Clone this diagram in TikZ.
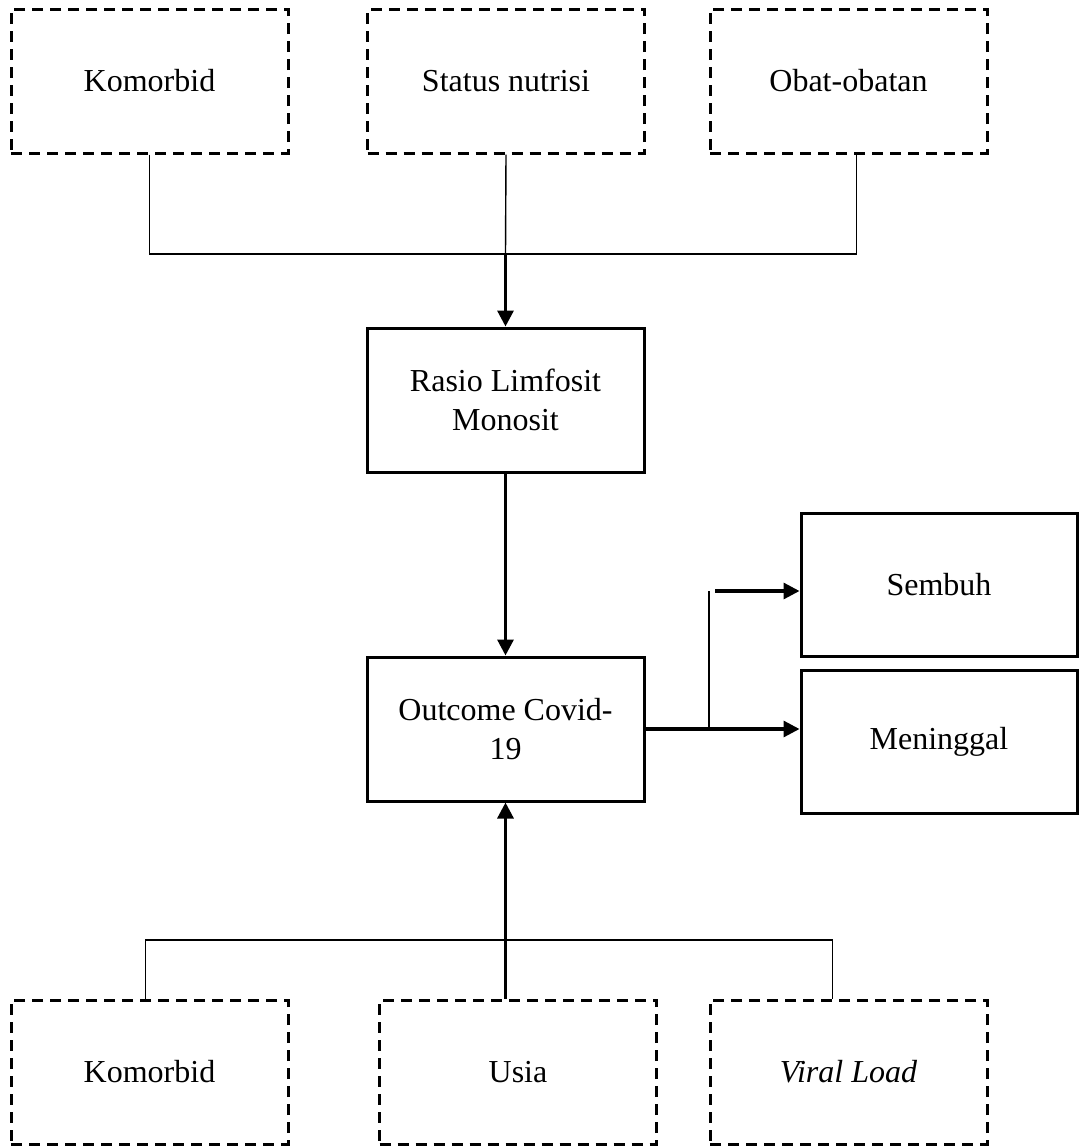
\documentclass[tikz,border=0pt]{standalone}
\usepackage{fontspec}
\setmainfont{Liberation Serif}
\usetikzlibrary{positioning,arrows.meta}
\tikzstyle{box} = [rectangle, text centered, align=center,
    minimum width=138.5pt, minimum height=72pt,
    draw=black, line width=1.5pt]
\tikzstyle{dbox} = [box, dash pattern=on 5.5pt off 3.5pt, line width=1.5pt]
\tikzstyle{arrow} = [-{Triangle[length=8pt,width=8pt]}, line width=1.6pt]
\tikzstyle{link} = [line width=0.7pt]

\begin{document}
\begin{tikzpicture}[%
x=0.5pt,y=-0.5pt,
font=\fontsize{16}{19.5}\selectfont,
]
\useasboundingbox (0,0) rectangle (1079,1146);

% faktor atas
\node[dbox] (kom1) at (149.5,81) {Komorbid};
\node[dbox] (nutri) at (506,81) {Status nutrisi};
\node[dbox] (obat) at (848.5,81) {Obat-obatan};

\node[box] (rasio) at (505.5,400) {Rasio Limfosit\\Monosit};
\node[box] (outcome) at (505.5,729) {Outcome Covid-\\19};
\node[box, minimum width=138pt, minimum height=71.5pt] (sembuh) at (939,584.5) {Sembuh};
\node[box, minimum width=138pt, minimum height=71.5pt] (mati) at (939,741.5) {Meninggal};

% faktor bawah
\node[dbox] (kom2) at (149.5,1072) {Komorbid};
\node[dbox] (usia) at (518,1072) {Usia};
\node[dbox] (viral) at (848.5,1072) {\textit{Viral Load}};

\coordinate (jtop) at (505.5,254);
\coordinate (jbot) at (505.5,940);
\coordinate (split) at (709,729);
\coordinate (up) at (709,591);
\coordinate (upr) at (715,591);

\draw [link] (kom1.south) |- (jtop) -| ([xshift=4pt]obat.south);
\draw [link] (nutri.south) -- (jtop);
\draw [arrow] (jtop) -- (rasio.north);
\draw [arrow] (rasio.south) -- (outcome.north);

\draw [arrow] (outcome.east) -- (outcome.east -| mati.west);
\draw [link, line width=1.1pt] (split) -- (up);
\draw [arrow] (upr) -- (upr -| sembuh.west);

\draw [link] ([xshift=-2pt]kom2.north) |- (jbot) -| ([xshift=-8pt]viral.north);
\draw [arrow] (outcome.south |- usia.north) -- (outcome.south);

\end{tikzpicture}
\end{document}
